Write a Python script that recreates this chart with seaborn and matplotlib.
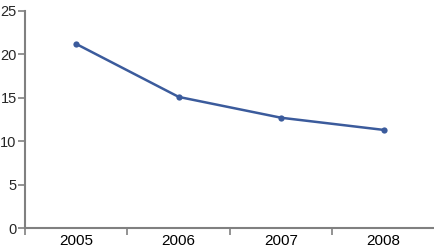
import numpy as np
import pandas as pd
import matplotlib
matplotlib.use("Agg")
import matplotlib.pyplot as plt
import seaborn as sns

years = ["2005", "2006", "2007", "2008"]
values = [21.2, 15.1, 12.7, 11.3]
y_ticks = [0, 5, 10, 15, 20, 25]

line_color = "#3b5b9c"
axis_color = "#808080"

sns.set_style("white")
plt.rcParams['font.family'] = ['Liberation Sans Narrow', 'Liberation Sans', 'DejaVu Sans']

df = pd.DataFrame({"year": years, "value": values})

fig = plt.figure(figsize=(4.35, 2.5), dpi=100)
ax = fig.add_axes([25 / 435, 22 / 250, 410 / 435, 217 / 250])

sns.lineplot(data=df, x="year", y="value", ax=ax, color=line_color,
             linewidth=1.8, marker="o", markersize=4.5, markeredgewidth=0,
             markerfacecolor=line_color)

ax.set_xlim(-0.5, 3.5)
ax.set_ylim(0, 25)
ax.set_yticks(y_ticks)
ax.set_xticks(range(len(years)))
ax.set_xticklabels(years)
ax.set_xticks(np.arange(-0.5, len(years), 1.0), minor=True)
ax.set_xlabel("")
ax.set_ylabel("")

for side in ["top", "right"]:
    ax.spines[side].set_visible(False)
for side in ["left", "bottom"]:
    ax.spines[side].set_color(axis_color)
    ax.spines[side].set_linewidth(1.5)

ax.tick_params(axis="x", which="major", length=0, labelsize=11, pad=4, colors="black")
ax.tick_params(axis="x", which="minor", length=5, width=1.2, color=axis_color, bottom=True)
ax.tick_params(axis="y", length=5, width=1.2, color=axis_color, labelsize=10.5, pad=1, left=True)

fig.savefig("out.png", dpi=100)
